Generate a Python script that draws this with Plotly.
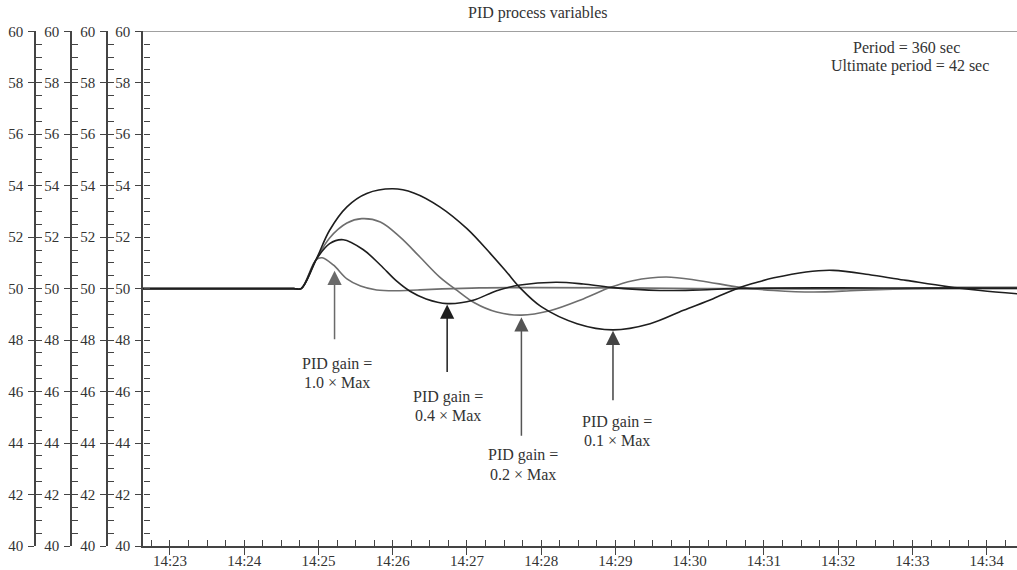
import plotly.graph_objects as go

DAY = "2024-01-01 "

# ---- data (time of day, process variable) ----
t_gain10 = ["14:22:38", "14:24:40", "14:24:46", "14:24:58", "14:25:03", "14:25:12", "14:25:23",
            "14:25:34", "14:25:47", "14:26:03", "14:26:20", "14:26:40", "14:27:10", "14:27:59",
            "14:29:04", "14:30:30", "14:32:00", "14:33:30", "14:34:25"]
v_gain10 = [50.0, 50.0, 50.0, 51.12, 51.2, 50.92, 50.38,
            50.1, 49.95, 49.92, 49.95, 49.99, 50.03, 50.04,
            50.03, 50.0, 49.99, 50.0, 50.0]

t_gain04 = ["14:22:38", "14:24:40", "14:24:46", "14:24:58", "14:25:09", "14:25:20", "14:25:36",
            "14:25:50", "14:26:03", "14:26:14", "14:26:27", "14:26:44", "14:27:05", "14:27:24",
            "14:27:43", "14:28:12", "14:28:34", "14:28:56", "14:29:36", "14:30:08", "14:30:41",
            "14:32:00", "14:33:30", "14:34:25"]
v_gain04 = [50.0, 50.0, 50.0, 51.12, 51.75, 51.9, 51.52,
            50.92, 50.3, 49.9, 49.6, 49.42, 49.55, 49.92,
            50.14, 50.25, 50.18, 50.05, 49.93, 49.95, 50.01,
            50.03, 50.02, 50.02]

t_gain02 = ["14:22:38", "14:24:40", "14:24:46", "14:24:58", "14:25:09", "14:25:23", "14:25:35",
            "14:25:50", "14:26:06", "14:26:22", "14:26:38", "14:26:52", "14:27:06", "14:27:24",
            "14:27:44", "14:28:07", "14:28:34", "14:28:56", "14:29:14", "14:29:41", "14:30:08",
            "14:30:41", "14:31:08", "14:31:40", "14:32:15", "14:32:55", "14:33:36", "14:34:25"]
v_gain02 = [50.0, 50.0, 50.0, 51.12, 51.97, 52.55, 52.72,
            52.59, 52.0, 51.23, 50.45, 49.93, 49.45, 49.09,
            48.97, 49.14, 49.6, 50.05, 50.31, 50.45, 50.31,
            50.05, 49.93, 49.87, 49.93, 50.0, 50.05, 50.05]

t_gain01 = ["14:22:38", "14:24:40", "14:24:46", "14:24:58", "14:25:09", "14:25:23", "14:25:39",
            "14:26:00", "14:26:17", "14:26:38", "14:27:00", "14:27:19", "14:27:32", "14:27:43",
            "14:28:00", "14:28:29", "14:28:58", "14:29:28", "14:29:55", "14:30:19", "14:30:38",
            "14:30:57", "14:31:08", "14:31:34", "14:31:56", "14:32:28", "14:32:55", "14:33:28",
            "14:33:55", "14:34:25"]
v_gain01 = [50.0, 50.0, 50.0, 51.12, 52.27, 53.18, 53.7,
            53.88, 53.72, 53.18, 52.33, 51.36, 50.65, 50.03,
            49.3, 48.64, 48.4, 48.64, 49.16, 49.61, 50.0,
            50.28, 50.42, 50.65, 50.71, 50.52, 50.32, 50.08,
            49.93, 49.8]

x_range = ["14:22:38.2", "14:34:24.5"]
y_range = [40, 60]

label_line1 = ["PID gain =", "PID gain =", "PID gain =", "PID gain ="]
label_line2 = ["1.0 × Max", "0.4 × Max", "0.2 × Max", "0.1 × Max"]
arrow_tip_t = ["14:25:13", "14:26:44", "14:27:44", "14:28:58"]
arrow_tip_v = [50.70, 49.38, 48.89, 48.36]

title_text = "PID process variables"
info_lines = ["Period = 360 sec", "Ultimate period = 42 sec"]

# ---- layout / style ----
W, H = 1017, 570
FONT = "Liberation Serif, Times New Roman, serif"
AX = "#444444"
DARK = "#1e1e1e"
GRAY = "#6e6e6e"
TXT = "#333333"


def px(x):
    return x / W


def py(y):
    return 1 - y / H


ydom = [py(546), py(31.3)]
xdom = [px(143), 1]

fig = go.Figure()

series = [(t_gain10, v_gain10, GRAY), (t_gain02, v_gain02, GRAY),
          (t_gain04, v_gain04, DARK), (t_gain01, v_gain01, DARK)]
for t, v, c in series:
    fig.add_trace(go.Scatter(x=[DAY + s for s in t], y=v, mode="lines",
                             line=dict(color=c, width=1.6, shape="spline", smoothing=1.0),
                             hoverinfo="skip"))

# empty traces so the tick-only overlay axes are drawn
fig.add_trace(go.Scatter(x=[], y=[], xaxis="x2", yaxis="y", showlegend=False))
fig.add_trace(go.Scatter(x=[], y=[], xaxis="x3", yaxis="y", showlegend=False))
for k in range(2, 9):
    fig.add_trace(go.Scatter(x=[], y=[], xaxis="x", yaxis="y%d" % k, showlegend=False))

xr = [DAY + s for s in x_range]
tickfont = dict(family=FONT, size=15, color=TXT)

# major ticks (outside) on the main x axis
xaxis = dict(type="date", range=xr, domain=xdom, anchor="y", showline=True,
             linecolor=AX, linewidth=1.5, ticks="outside", ticklen=7, tickwidth=1.2,
             tickcolor=AX, tickmode="linear", dtick=60000, tick0=DAY + "14:23:00",
             showticklabels=False, showgrid=False, zeroline=False, automargin=False)
# inside ticks every 15 s (overlay, no labels)
xaxis2 = dict(type="date", range=xr, domain=xdom, anchor="y", overlaying="x", side="bottom",
              ticks="inside", ticklen=6, tickwidth=1.2, tickcolor=AX, tickmode="linear",
              dtick=15000, tick0=DAY + "14:23:00", showticklabels=False, showline=False,
              showgrid=False, zeroline=False, automargin=False)
# labels only
xaxis3 = dict(type="date", range=xr, domain=xdom, anchor="y", overlaying="x", side="bottom",
              ticks="", tickmode="linear", dtick=60000, tick0=DAY + "14:23:00",
              tickformat="%H:%M", tickfont=tickfont, showline=False, showgrid=False,
              zeroline=False, automargin=False, ticklabelstandoff=4)

inner_vals = [40 + 0.5 * i for i in range(1, 40)]


def yax(extra):
    d = dict(range=y_range, domain=ydom, showline=True, linecolor=AX, linewidth=1.5,
             ticks="outside", ticklen=6, tickwidth=1.2, tickcolor=AX, tickmode="linear",
             dtick=2, tick0=40, tickfont=tickfont, showgrid=False, zeroline=False,
             automargin=False, ticklabelstandoff=2)
    d.update(extra)
    return d


def yinner(pos):
    return dict(range=y_range, domain=ydom, overlaying="y", anchor="free", position=pos,
                side="left", ticks="inside", ticklen=6, tickwidth=1.2, tickcolor=AX,
                tickmode="array", tickvals=inner_vals, showticklabels=False,
                showline=False, showgrid=False, zeroline=False, automargin=False)


positions = [px(35), px(71), px(107), px(143)]

layout = dict(width=W, height=H, margin=dict(l=0, r=0, t=0, b=0, pad=0),
              paper_bgcolor="white", plot_bgcolor="white", showlegend=False,
              font=dict(family=FONT, color=TXT),
              xaxis=xaxis, xaxis2=xaxis2, xaxis3=xaxis3,
              yaxis=yax(dict(anchor="x")),
              yaxis2=yax(dict(overlaying="y", anchor="free", position=positions[0], side="left")),
              yaxis3=yax(dict(overlaying="y", anchor="free", position=positions[1], side="left")),
              yaxis4=yax(dict(overlaying="y", anchor="free", position=positions[2], side="left")),
              yaxis5=yinner(positions[0]), yaxis6=yinner(positions[1]),
              yaxis7=yinner(positions[2]), yaxis8=yinner(positions[3]))
fig.update_layout(**layout)

fig.add_shape(type="line", xref="paper", yref="y", x0=px(143), x1=1, y0=60, y1=60,
              line=dict(color="#808080", width=1.5))

ann = []


def text_ann(x, y, s):
    return dict(xref="paper", yref="paper", x=px(x), y=py(y), text=s, showarrow=False,
                xanchor="center", yanchor="middle", font=dict(family=FONT, size=16, color=TXT))


ann.append(text_ann(537.5, 13, title_text))
ann.append(text_ann(906, 47, info_lines[0]))
ann.append(text_ann(909.5, 65.5, info_lines[1]))

label_pos = [(336.7, 363.5), (448.3, 396.5), (523.3, 455), (616.7, 421.5)]
line_gap = 19
arrow_len = [70, 69, 120, 71]
arrow_col = ["#6a6a6a", "#1e1e1e", "#555555", "#444444"]
for i in range(4):
    ann.append(dict(xref="x", yref="y", x=DAY + arrow_tip_t[i], y=arrow_tip_v[i],
                    ax=0, ay=arrow_len[i], text="", showarrow=True, arrowhead=2,
                    arrowsize=1.9, arrowwidth=1.5, arrowcolor=arrow_col[i], standoff=0))
    lx, ly = label_pos[i]
    ann.append(text_ann(lx, ly, label_line1[i]))
    ann.append(text_ann(lx, ly + line_gap, label_line2[i]))
fig.update_layout(annotations=ann)

fig.write_html("out.html")
